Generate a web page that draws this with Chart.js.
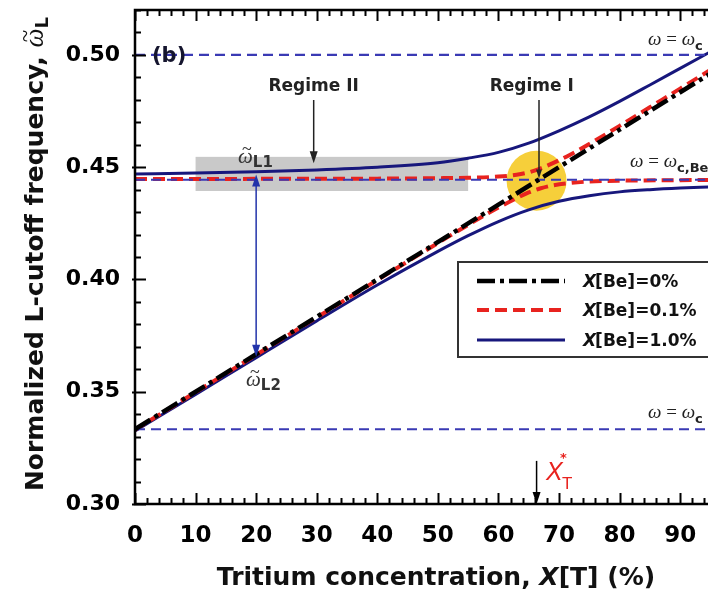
<!DOCTYPE html>
<html>
<head>
<meta charset="utf-8">
<script src="https://cdn.jsdelivr.net/npm/chart.js@4.4.0/dist/chart.umd.min.js"></script>
<style>
  html, body { margin: 0; padding: 0; background: #fff; overflow: hidden; }
</style>
</head>
<body>
<canvas id="myChart" width="708" height="600"></canvas>
<script>
// tick labels
const xTicks = [0, 10, 20, 30, 40, 50, 60, 70, 80, 90];
const yTicks = [0.30, 0.35, 0.40, 0.45, 0.50];

// X[Be]=0% (straight line)
const xBe0 = [0, 20, 40, 60, 80, 95];
const wBe0 = [0.3333, 0.3667, 0.4000, 0.4333, 0.4667, 0.4917];

// X[Be]=0.1% : upper and lower branch
const xBe01Up = [0, 20, 40, 50, 55, 60, 63, 65, 67, 69, 72, 75, 80, 85, 90, 95];
const wBe01Up = [0.4447, 0.4448, 0.4449, 0.4451, 0.4453, 0.4458, 0.4466, 0.4477, 0.4495, 0.4518, 0.4558, 0.4603, 0.4684, 0.4767, 0.4850, 0.4933];
const xBe01Low = [0, 20, 40, 50, 55, 60, 63, 65, 67, 69, 72, 75, 80, 90, 95];
const wBe01Low = [0.3331, 0.3664, 0.3997, 0.4162, 0.4243, 0.4320, 0.4362, 0.4388, 0.4406, 0.4419, 0.4430, 0.4436, 0.4440, 0.4442, 0.4443];

// X[Be]=1.0% : upper and lower branch
const xBe1Up = [0, 10, 20, 30, 40, 50, 55, 60, 65, 70, 75, 80, 85, 90, 95];
const wBe1Up = [0.4470, 0.4474, 0.4480, 0.4488, 0.4500, 0.4520, 0.4540, 0.4566, 0.4607, 0.4662, 0.4724, 0.4793, 0.4866, 0.4940, 0.5014];
const xBe1Low = [0, 10, 20, 30, 40, 50, 55, 60, 65, 70, 75, 80, 85, 90, 95];
const wBe1Low = [0.3325, 0.3488, 0.3652, 0.3815, 0.3975, 0.4125, 0.4195, 0.4258, 0.4310, 0.4348, 0.4373, 0.4390, 0.4400, 0.4407, 0.4412];

// cyclotron frequency lines  (ω = ωc, ω = ωc,Be, ω = ωc)
const refLevels = [0.5000, 0.4444, 0.3333];
const refSpan = [0, 95];

const NAVY = '#17177c';
const RED = '#e8231f';
const REFBLUE = '#3a3ab4';
const SANS = '"DejaVu Sans"';
const SERIF = '"Liberation Serif"';

Chart.defaults.font.family = 'DejaVu Sans';

const pts = (xs, ys) => xs.map((x, i) => ({ x, y: ys[i] }));

const lineSet = (label, xs, ys, color, width, dash, order) => ({
    label,
    data: pts(xs, ys),
    borderColor: color,
    borderWidth: width,
    borderDash: dash,
    pointRadius: 0,
    fill: false,
    cubicInterpolationMode: 'monotone',
    order
});

const datasets = [
    lineSet('X[Be]=1.0% upper', xBe1Up, wBe1Up, NAVY, 3, [], 5),
    lineSet('X[Be]=1.0% lower', xBe1Low, wBe1Low, NAVY, 3, [], 5),
    lineSet('X[Be]=0.1% upper', xBe01Up, wBe01Up, RED, 4, [12, 6], 4),
    lineSet('X[Be]=0.1% lower', xBe01Low, wBe01Low, RED, 4, [12, 6], 4),
    ...refLevels.map(v => lineSet('ref', refSpan, [v, v], REFBLUE, 2.2, [10, 6], 3)),
    lineSet('X[Be]=0%', xBe0, wBe0, '#000', 4.5, [18, 5, 4, 5], 1)
];

// helpers for the annotations
const arrowHead = (ctx, xt, yt, ang, len, w) => {
    const c = Math.cos(ang), s = Math.sin(ang);
    ctx.beginPath();
    ctx.moveTo(xt, yt);
    ctx.lineTo(xt - len * c + w / 2 * s, yt - len * s - w / 2 * c);
    ctx.lineTo(xt - len * c - w / 2 * s, yt - len * s + w / 2 * c);
    ctx.closePath();
    ctx.fill();
};

const omegaTilde = (ctx, x, y, size) => {
    ctx.font = `italic ${size}px ${SERIF}`;
    ctx.textAlign = 'left';
    ctx.fillText('ω', x, y);
    const w = ctx.measureText('ω').width;
    ctx.font = `${Math.round(size * 0.85)}px ${SERIF}`;
    ctx.textAlign = 'center';
    ctx.fillText('~', x + w * 0.6, y - size * 0.36);
    ctx.textAlign = 'left';
    return w;
};

// "ω = ωc..." label
const omegaEq = (ctx, x, y, sub) => {
    ctx.fillStyle = '#222';
    ctx.textAlign = 'left';
    ctx.font = `italic 19px ${SERIF}`;
    ctx.fillText('ω', x, y);
    x += ctx.measureText('ω').width;
    ctx.font = `19px ${SERIF}`;
    ctx.fillText(' = ', x, y);
    x += ctx.measureText(' = ').width;
    ctx.font = `italic 19px ${SERIF}`;
    ctx.fillText('ω', x, y);
    x += ctx.measureText('ω').width;
    ctx.font = `bold 13px ${SANS}`;
    ctx.fillText(sub, x, y + 5);
};

const annotate = {
    id: 'annotate',
    beforeDatasetsDraw(chart) {
        const { ctx, scales: { x, y } } = chart;
        ctx.save();
        // grey band of regime II
        const bx0 = x.getPixelForValue(10), bx1 = x.getPixelForValue(55);
        const by0 = y.getPixelForValue(0.4546), by1 = y.getPixelForValue(0.4394);
        ctx.fillStyle = '#c9c9c9';
        ctx.fillRect(bx0, by0, bx1 - bx0, by1 - by0);
        // yellow spot of regime I
        ctx.fillStyle = '#f6cf3a';
        ctx.beginPath();
        ctx.arc(x.getPixelForValue(66.3), y.getPixelForValue(0.4440), 30, 0, 2 * Math.PI);
        ctx.fill();
        ctx.restore();
    },
    afterDraw(chart) {
        const { ctx, chartArea: a, scales: { x, y } } = chart;
        ctx.save();

        // frame (left, bottom, top)
        ctx.strokeStyle = '#000';
        ctx.lineWidth = 2.5;
        ctx.beginPath();
        ctx.moveTo(a.right + 5, a.top);
        ctx.lineTo(a.left, a.top);
        ctx.lineTo(a.left, a.bottom);
        ctx.lineTo(a.right + 5, a.bottom);
        ctx.stroke();

        // inward ticks
        ctx.lineWidth = 2;
        ctx.beginPath();
        for (let i = 0; i <= 48; i++) {
            const v = i * 2;
            if (v > x.max) break;
            const px = Math.round(x.getPixelForValue(v)) + 0.5;
            const len = v % 10 === 0 ? 11 : 6;
            ctx.moveTo(px, a.bottom);
            ctx.lineTo(px, a.bottom - len);
            ctx.moveTo(px, a.top);
            ctx.lineTo(px, a.top + len);
        }
        for (let i = 30; i <= 52; i++) {
            const py = Math.round(y.getPixelForValue(i / 100)) + 0.5;
            const len = i % 5 === 0 ? 11 : 6;
            ctx.moveTo(a.left - (i % 5 === 0 ? 3 : 0), py);
            ctx.lineTo(a.left + len, py);
        }
        ctx.stroke();

        ctx.textBaseline = 'alphabetic';

        // (b)
        ctx.fillStyle = '#15152e';
        ctx.font = `bold 21px ${SANS}`;
        ctx.textAlign = 'left';
        ctx.fillText('(b)', 152, 62);

        // Regime II
        ctx.fillStyle = '#222';
        ctx.strokeStyle = '#222';
        ctx.font = `bold 17px ${SANS}`;
        ctx.textAlign = 'center';
        const r2x = x.getPixelForValue(29.5);
        ctx.fillText('Regime II', r2x, 91);
        ctx.lineWidth = 1.5;
        ctx.beginPath();
        ctx.moveTo(r2x, 100);
        ctx.lineTo(r2x, y.getPixelForValue(0.4518) - 10);
        ctx.stroke();
        arrowHead(ctx, r2x, y.getPixelForValue(0.4518), Math.PI / 2, 12, 8);

        // Regime I
        const r1x = x.getPixelForValue(66.7);
        ctx.fillText('Regime I', x.getPixelForValue(65.5), 91);
        ctx.beginPath();
        ctx.moveTo(r1x, 100);
        ctx.lineTo(r1x, y.getPixelForValue(0.4450) - 8);
        ctx.stroke();
        arrowHead(ctx, r1x, y.getPixelForValue(0.4450), Math.PI / 2, 9, 6);

        // ωL1 - ωL2 double arrow
        const dx = x.getPixelForValue(20);
        const dy0 = y.getPixelForValue(0.4467), dy1 = y.getPixelForValue(0.3656);
        ctx.strokeStyle = '#2233aa';
        ctx.fillStyle = '#2233aa';
        ctx.lineWidth = 1.5;
        ctx.beginPath();
        ctx.moveTo(dx, dy0 + 10);
        ctx.lineTo(dx, dy1 - 10);
        ctx.stroke();
        arrowHead(ctx, dx, dy0, -Math.PI / 2, 12, 8);
        arrowHead(ctx, dx, dy1, Math.PI / 2, 12, 8);

        ctx.fillStyle = '#333';
        let w = omegaTilde(ctx, 238, 163, 21);
        ctx.font = `bold 15px ${SANS}`;
        ctx.fillText('L1', 238 + w, 167);
        w = omegaTilde(ctx, 246, 386, 21);
        ctx.font = `bold 15px ${SANS}`;
        ctx.fillText('L2', 246 + w, 390);

        // ω = ωc labels
        omegaEq(ctx, 648, 45, 'c');
        omegaEq(ctx, 630, 167, 'c,Be');
        omegaEq(ctx, 648, 418, 'c');

        // X*_T
        const tx = x.getPixelForValue(66.3);
        ctx.strokeStyle = '#000';
        ctx.fillStyle = '#000';
        ctx.lineWidth = 1.5;
        ctx.beginPath();
        ctx.moveTo(tx, y.getPixelForValue(0.3192));
        ctx.lineTo(tx, a.bottom - 10);
        ctx.stroke();
        arrowHead(ctx, tx, a.bottom, Math.PI / 2, 12, 8);
        ctx.fillStyle = RED;
        ctx.textAlign = 'left';
        ctx.font = `italic 25px "Liberation Sans"`;
        ctx.fillText('X', 546, 480);
        ctx.font = `bold 13px ${SANS}`;
        ctx.fillText('*', 560, 462);
        ctx.font = `17px "Liberation Sans"`;
        ctx.fillText('T', 562, 489);

        // legend
        ctx.fillStyle = '#fff';
        ctx.fillRect(458, 262, 260, 95);
        ctx.strokeStyle = '#333';
        ctx.lineWidth = 2;
        ctx.strokeRect(458, 262, 260, 95);
        const rows = [
            { y: 281, color: '#000', width: 4.5, dash: [18, 5, 4, 5], text: '[Be]=0%' },
            { y: 310, color: RED, width: 4, dash: [12, 6], text: '[Be]=0.1%' },
            { y: 340, color: NAVY, width: 3, dash: [], text: '[Be]=1.0%' }
        ];
        rows.forEach(r => {
            ctx.strokeStyle = r.color;
            ctx.lineWidth = r.width;
            ctx.setLineDash(r.dash);
            ctx.beginPath();
            ctx.moveTo(477, r.y);
            ctx.lineTo(565, r.y);
            ctx.stroke();
            ctx.setLineDash([]);
            ctx.fillStyle = '#111';
            ctx.font = `italic bold 17px ${SANS}`;
            ctx.fillText('X', 583, r.y + 6);
            const xw = ctx.measureText('X').width;
            ctx.font = `bold 17px ${SANS}`;
            ctx.fillText(r.text, 583 + xw - 1, r.y + 6);
        });

        // y axis title
        ctx.fillStyle = '#111';
        ctx.save();
        ctx.translate(43, 254);
        ctx.rotate(-Math.PI / 2);
        const main = 'Normalized L-cutoff frequency, ';
        ctx.font = `bold 25px ${SANS}`;
        const w1 = ctx.measureText(main).width;
        ctx.font = `italic 27px ${SERIF}`;
        const w2 = ctx.measureText('ω').width;
        ctx.font = `bold 18px ${SANS}`;
        const w3 = ctx.measureText('L').width;
        let sx = -(w1 + w2 + w3) / 2;
        ctx.font = `bold 25px ${SANS}`;
        ctx.textAlign = 'left';
        ctx.fillText(main, sx, 0);
        sx += w1;
        omegaTilde(ctx, sx, 0, 27);
        ctx.font = `bold 18px ${SANS}`;
        ctx.fillText('L', sx + w2, 5);
        ctx.restore();

        // x axis title
        const parts = [
            { t: 'Tritium concentration, ', f: `bold 25px ${SANS}` },
            { t: 'X', f: `italic bold 25px ${SANS}` },
            { t: '[T] (%)', f: `bold 25px ${SANS}` }
        ];
        let tw = 0;
        parts.forEach(p => { ctx.font = p.f; p.w = ctx.measureText(p.t).width; tw += p.w; });
        let cx = 436 - tw / 2;
        ctx.textAlign = 'left';
        parts.forEach(p => { ctx.font = p.f; ctx.fillText(p.t, cx, 585); cx += p.w; });

        ctx.restore();
    }
};

const ctx = document.getElementById('myChart').getContext('2d');

const chart = new Chart(ctx, {
    type: 'line',
    data: { datasets },
    options: {
        responsive: false,
        animation: false,
        events: [],
        layout: { padding: { top: 10, right: 0, bottom: 0, left: 0 } },
        plugins: {
            legend: { display: false },
            tooltip: { enabled: false }
        },
        scales: {
            x: {
                type: 'linear',
                min: 0,
                max: 94.6,
                afterBuildTicks: s => { s.ticks = xTicks.map(v => ({ value: v })); },
                afterFit: s => {
                    s.height = 96;
                    s.paddingLeft = 0; s.paddingRight = 0;
                },
                grid: { display: false, drawTicks: false },
                border: { display: false },
                ticks: {
                    color: '#000',
                    padding: 18,
                    maxRotation: 0,
                    font: { size: 23, weight: 'bold' }
                }
            },
            y: {
                type: 'linear',
                min: 0.30,
                max: 0.52,
                afterBuildTicks: s => { s.ticks = yTicks.map(v => ({ value: v })); },
                afterFit: s => {
                    s.width = 135;
                    s.paddingTop = 0; s.paddingBottom = 0;
                },
                grid: { display: false, drawTicks: false },
                border: { display: false },
                ticks: {
                    color: '#000',
                    padding: 15,
                    font: { size: 22, weight: 'bold' },
                    callback: v => v.toFixed(2)
                }
            }
        }
    },
    plugins: [annotate]
});
</script>
</body>
</html>
